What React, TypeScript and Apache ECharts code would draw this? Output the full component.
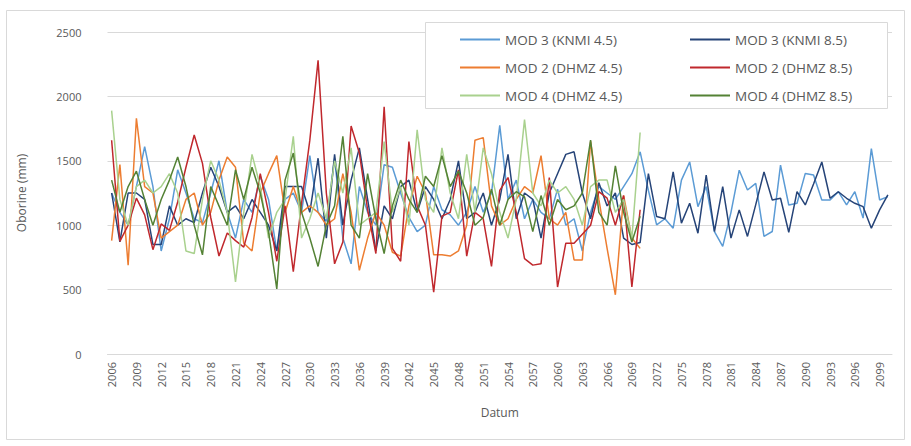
import React, { useEffect, useRef } from "react";
import * as echarts from "echarts";

const years: string[] = Array.from({ length: 95 }, (_, i) => String(2006 + i));

const seriesNames = [
  "MOD 3 (KNMI 4.5)",
  "MOD 3 (KNMI 8.5)",
  "MOD 2 (DHMZ 4.5)",
  "MOD 2 (DHMZ 8.5)",
  "MOD 4 (DHMZ 4.5)",
  "MOD 4 (DHMZ 8.5)",
];

const colors = ["#5B9BD5", "#264478", "#ED7D31", "#C0282D", "#A9D18E", "#548235"];

// MOD 3 (KNMI 4.5): 2006-2100
const knmi45 = [
  1250, 1100, 1000, 1300, 1610, 1300, 800, 1050, 1430, 1250,
  1050, 1020, 1250, 1500, 1100, 900, 1200, 1100, 1380, 1200,
  800, 1200, 1250, 1100, 1540, 1100, 1030, 1520, 900, 700,
  1300, 1100, 1000, 1470, 1450, 1250, 1060, 950, 1000, 1300,
  1120, 1080, 1000, 1100, 1300, 1100, 1250, 1775, 1200, 1350,
  1050, 1200, 1100, 1050, 1280, 1000, 1050, 800, 1100, 1300,
  1250, 1200, 1300, 1400, 1570, 1270, 1003, 1050, 977, 1350,
  1491, 1144, 1300, 951, 836, 1100, 1427, 1273, 1325, 913,
  951, 1466, 1157, 1170, 1402, 1389, 1196, 1196, 1260, 1157,
  1260, 1055, 1595, 1196, 1222,
];

// MOD 3 (KNMI 8.5): 2006-2100
const knmi85 = [
  1250, 870, 1250, 1250, 1200, 850, 850, 1150, 1000, 1050,
  1020, 1250, 1450, 1300, 1100, 1150, 1050, 1200, 1100, 1000,
  800, 1300, 1300, 1300, 1100, 1520, 900, 1550, 1000, 1350,
  1600, 1200, 800, 1150, 1050, 1300, 1350, 1100, 1300, 1200,
  1050, 1200, 1500, 1050, 1100, 1250, 1000, 1200, 1550, 1050,
  1250, 1200, 900, 1250, 1400, 1550, 1570, 1250, 1050, 1330,
  1150, 1250, 900, 850, 865, 1400, 1067, 1050, 1414, 1016,
  1170, 938, 1389, 951, 1299, 900, 1119, 913, 1160, 1414,
  1196, 1209, 945, 1260, 1157, 1320, 1491, 1209, 1260, 1209,
  1170, 1144, 977, 1119, 1235,
];

// MOD 2 (DHMZ 4.5): 2006-2070
const dhmz45 = [
  880, 1470, 690, 1830, 1300, 1250, 900, 950, 1000, 1200,
  1250, 1000, 1100, 1350, 1530, 1450, 860, 800, 1250, 1400,
  1540, 1100, 1300, 1100, 1150, 1100, 1000, 1050, 1400, 1100,
  650, 900, 1100, 1000, 790, 760, 1150, 1380, 1250, 770,
  770, 760, 800, 1000, 1660, 1680, 1150, 1000, 1050, 1200,
  1300, 1250, 1540, 1050, 1000, 1100, 730, 730, 1650, 1200,
  820, 460, 1230, 900, 820,
];

// MOD 2 (DHMZ 8.5): 2006-2070
const dhmz85 = [
  1660, 875, 1000, 1210, 1080, 810, 1010, 960, 1180, 1450,
  1700, 1480, 1060, 760, 940, 880, 830, 1060, 1400, 1100,
  720, 1150, 640, 1170, 1660, 2280, 1250, 700, 870, 1770,
  1560, 1120, 780, 1920, 820, 720, 1650, 1150, 1000, 480,
  1070, 1100, 1430, 760, 1100, 1050, 680, 1270, 1370, 1100,
  740, 690, 700, 1370, 520, 860, 860, 930, 1000, 1260,
  1210, 1000, 1230, 520, 1120,
];

// MOD 4 (DHMZ 4.5): 2006-2070
const mod4_45 = [
  1890, 1200, 1000, 1300, 1350, 1250, 1300, 1400, 1250, 800,
  780, 1200, 1500, 1350, 1100, 560, 1100, 1550, 1300, 900,
  1100, 1200, 1690, 900, 1050, 1250, 1050, 1500, 1250, 1600,
  1000, 1050, 1100, 1650, 1100, 1300, 1000, 1740, 1200, 1100,
  1600, 1250, 1050, 1550, 1100, 1600, 1400, 1100, 900, 1200,
  1820, 1250, 1150, 1350, 1250, 1300, 1200, 1000, 1300, 1350,
  1350, 1100, 1200, 900, 1720,
];

// MOD 4 (DHMZ 8.5): 2006-2070
const mod4_85 = [
  1350, 1100, 1300, 1420, 1200, 1000, 1200, 1350, 1530, 1300,
  1000, 770, 1300, 1150, 1000, 1430, 1200, 1450, 1250, 950,
  505, 1350, 1560, 1100, 900, 680, 1000, 1150, 1690, 1000,
  900, 1400, 1050, 780, 1150, 1350, 1200, 1100, 1380, 1300,
  1540, 1300, 1420, 1250, 1000, 1060, 1280, 1000, 1200, 1260,
  1220, 950, 1230, 1000, 1200, 1120, 1150, 1250, 1660, 1100,
  1000, 1460, 1100, 870, 1070,
];

const allData = [knmi45, knmi85, dhmz45, dhmz85, mod4_45, mod4_85];

const FONT = "'Open Sans', sans-serif";
const TXT = "#595959";

export default function App() {
  const ref = useRef<HTMLDivElement>(null);
  useEffect(() => {
    if (!ref.current) return;
    const chart = echarts.init(ref.current, undefined, { renderer: "svg" });
    const legendCommon = {
      orient: "vertical" as const,
      top: 27,
      itemWidth: 40,
      itemHeight: 2,
      itemGap: 13,
      icon: "rect",
      textStyle: { color: TXT, fontSize: 13.5, fontFamily: FONT, lineHeight: 15 },
      z: 5,
    };
    chart.setOption({
      animation: false,
      backgroundColor: "#ffffff",
      textStyle: { fontFamily: FONT },
      grid: { left: 107.5, right: 19, top: 32, height: 322, containLabel: false },
      legend: [
        { ...legendCommon, left: 455, data: [seriesNames[0], seriesNames[2], seriesNames[4]] },
        { ...legendCommon, left: 685, data: [seriesNames[1], seriesNames[3], seriesNames[5]] },
      ],
      graphic: [
        {
          type: "rect",
          shape: { x: 6.5, y: 10.5, width: 898, height: 429 },
          style: { fill: "none", stroke: "#d9d9d9", lineWidth: 1 },
          silent: true,
          z: 0,
        },
        {
          type: "rect",
          shape: { x: 425.5, y: 22.5, width: 462, height: 86 },
          style: { fill: "#ffffff", stroke: "#d9d9d9", lineWidth: 1 },
          silent: true,
          z: 3,
        },
      ],
      xAxis: {
        type: "category",
        data: years,
        boundaryGap: true,
        name: "Datum",
        nameLocation: "middle",
        nameGap: 52,
        nameTextStyle: { color: TXT, fontSize: 12, fontFamily: FONT },
        axisLine: { show: true, lineStyle: { color: "#d9d9d9", width: 1 } },
        axisTick: { show: false },
        axisLabel: {
          interval: 2,
          rotate: 90,
          color: TXT,
          fontSize: 11,
          fontFamily: FONT,
          margin: 8,
        },
        splitLine: { show: false },
      },
      yAxis: {
        type: "value",
        min: 0,
        max: 2500,
        interval: 500,
        name: "Oborine (mm)",
        nameLocation: "middle",
        nameGap: 80,
        nameRotate: 90,
        nameTextStyle: { color: TXT, fontSize: 12, fontFamily: FONT },
        axisLine: { show: false },
        axisTick: { show: false },
        axisLabel: {
          color: TXT,
          fontSize: 11,
          fontFamily: FONT,
          margin: 26,
          formatter: (v: number) => String(v),
        },
        splitLine: { show: true, lineStyle: { color: "#d9d9d9", width: 1 } },
      },
      series: seriesNames.map((name, i) => ({
        name,
        type: "line",
        data: allData[i],
        symbol: "none",
        showSymbol: false,
        lineStyle: { color: colors[i], width: 1.5 },
        itemStyle: { color: colors[i] },
        z: 2,
      })),
    });
    return () => chart.dispose();
  }, []);
  return (
    <div
      ref={ref}
      style={{ position: "absolute", left: 0, top: 0, width: 911, height: 446 }}
    />
  );
}
